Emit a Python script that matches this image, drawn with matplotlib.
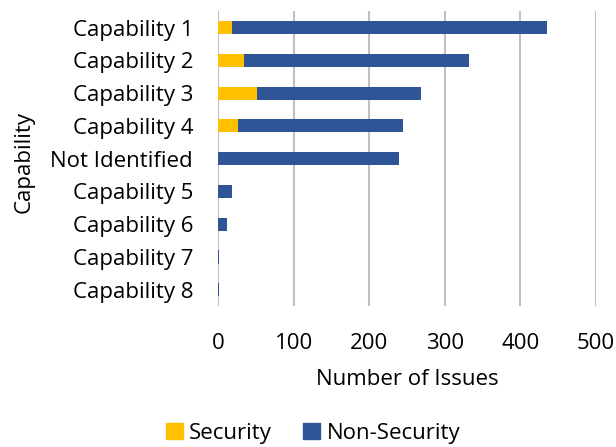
import numpy as np
import matplotlib.pyplot as plt
from matplotlib.patches import Patch

categories = ["Capability 1", "Capability 2", "Capability 3", "Capability 4",
              "Not Identified", "Capability 5", "Capability 6", "Capability 7",
              "Capability 8"]
security = [18, 34, 52, 27, 0, 0, 0, 0, 0]
non_security = [418, 298, 217, 218, 239, 18, 12, 1, 1]
x_ticks = [0, 100, 200, 300, 400, 500]

plt.rcParams['font.family'] = ['Open Sans', 'DejaVu Sans']
fs = 16

fig = plt.figure(figsize=(6.16, 4.47), dpi=100)
ax = fig.add_axes([0.354, 0.315, 0.613, 0.66])

y = np.arange(len(categories))
ax.barh(y, security, height=0.4, color="#FFC000", label="Security", zorder=3)
ax.barh(y, non_security, left=security, height=0.4, color="#2F5597",
        label="Non-Security", zorder=3)

# 軸の設定
ax.set_xlim(0, 500)
ax.set_ylim(len(categories) - 0.5, -0.5)
ax.set_xticks(x_ticks)
ax.set_yticks(y)
ax.set_yticklabels(categories)
ax.tick_params(length=0, labelsize=fs)
ax.tick_params(axis="y", pad=18)
ax.tick_params(axis="x", pad=19)
ax.xaxis.grid(True, color="#BFBFBF", linewidth=1.5, zorder=0)
for s in ax.spines.values():
    s.set_visible(False)

ax.set_xlabel("Number of Issues", fontsize=fs, va="center")
ax.xaxis.set_label_coords(0.5, -0.25)
ax.set_ylabel("Capability", fontsize=fs, va="center", ha="center")
ax.yaxis.set_label_coords(-0.513, 0.488)

# 凡例
handles = [Patch(color="#FFC000", label="Security"),
           Patch(color="#2F5597", label="Non-Security")]
fig.legend(handles=handles, loc="center", bbox_to_anchor=(313 / 616, 0.03),
           ncol=2, frameon=False, fontsize=fs, handlelength=0.75,
           handleheight=0.75, columnspacing=1.4, handletextpad=0.3,
           borderpad=0)

fig.savefig("out.png", dpi=100)
